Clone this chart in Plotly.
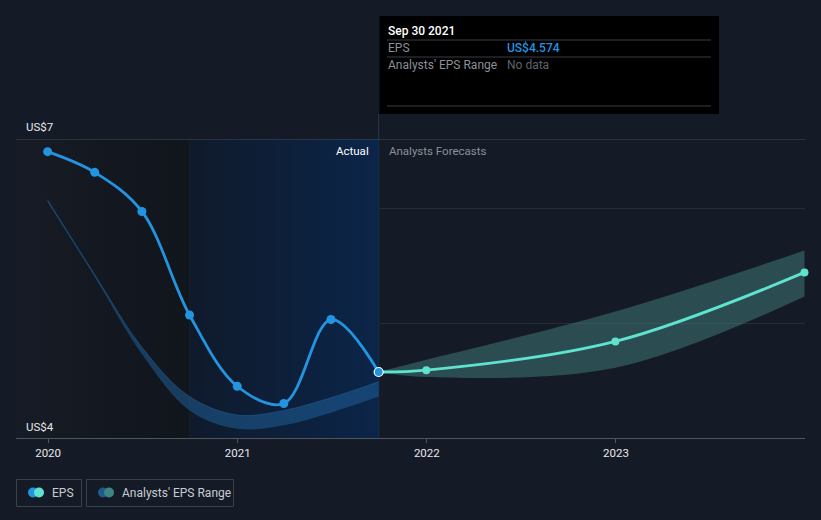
import plotly.graph_objects as go

# ---- data ----
actual_dates = ["2019-12-31", "2020-03-31", "2020-06-30", "2020-09-30",
                "2020-12-31", "2021-03-31", "2021-06-30", "2021-09-30"]
actual_eps = [6.49, 6.31, 5.97, 5.07, 4.45, 4.30, 5.03, 4.574]

past_range_dates = ["2019-12-31", "2020-03-31", "2020-06-30", "2020-09-30",
                    "2020-12-31", "2021-03-31", "2021-06-30", "2021-09-30"]
past_range_high = [6.07, 5.42, 4.79, 4.36, 4.20, 4.24, 4.35, 4.49]
past_range_low = [6.05, 5.40, 4.73, 4.24, 4.08, 4.11, 4.22, 4.36]

fc_dates = ["2021-09-30", "2021-12-31", "2022-12-31", "2023-12-31"]
fc_eps = [4.574, 4.59, 4.84, 5.44]
fc_high = [4.574, 4.68, 5.10, 5.63]
fc_low = [4.574, 4.53, 4.61, 5.23]

y_tick_labels = ["US$7", "US$4"]
x_tick_vals = ["2020-01-01", "2021-01-01", "2022-01-01", "2023-01-01"]
x_tick_text = ["2020", "2021", "2022", "2023"]

hover_date = "Sep 30 2021"
hover_eps = "US$4.574"

BG = "#151b26"
X0, X1 = "2019-10-31", "2024-01-01"
Y0, Y1 = 4.0, 6.6
split_a = "2020-09-30"
split_b = "2021-09-30"

fig = go.Figure()

# shaded regions
fig.add_trace(go.Scatter(
    x=[X0, split_a, split_a, X0, X0], y=[Y0, Y0, Y1, Y1, Y0],
    fill="toself", mode="lines", line=dict(width=0),
    fillgradient=dict(type="horizontal",
                      colorscale=[[0, "#161b25"], [1, "#11151c"]]),
    hoverinfo="skip", showlegend=False))
fig.add_trace(go.Scatter(
    x=[split_a, split_b, split_b, split_a, split_a], y=[Y0, Y0, Y1, Y1, Y0],
    fill="toself", mode="lines", line=dict(width=0),
    fillgradient=dict(type="horizontal",
                      colorscale=[[0, "#0f1a2b"], [1, "#0b2549"]]),
    hoverinfo="skip", showlegend=False))

# past analysts' range band
fig.add_trace(go.Scatter(x=past_range_dates, y=past_range_low, mode="lines",
                         line=dict(width=0, shape="spline", color="rgba(0,0,0,0)"),
                         hoverinfo="skip", showlegend=False))
fig.add_trace(go.Scatter(x=past_range_dates, y=past_range_high, mode="lines",
                         line=dict(width=1, shape="spline", color="rgba(32,100,160,0.5)"),
                         fill="tonexty", fillcolor="rgba(32,100,160,0.5)",
                         hoverinfo="skip", showlegend=False))

# forecast range band
fig.add_trace(go.Scatter(x=fc_dates, y=fc_low, mode="lines",
                         line=dict(width=0, shape="spline", color="rgba(0,0,0,0)"),
                         hoverinfo="skip", showlegend=False))
fig.add_trace(go.Scatter(x=fc_dates, y=fc_high, mode="lines",
                         line=dict(width=0, shape="spline", color="rgba(0,0,0,0)"),
                         fill="tonexty", fillcolor="rgba(70,140,135,0.45)",
                         hoverinfo="skip", showlegend=False))

# forecast line
fig.add_trace(go.Scatter(x=fc_dates, y=fc_eps, mode="lines+markers",
                         line=dict(width=2.8, shape="spline", color="#5fe3cf"),
                         marker=dict(size=8, color="#5fe3cf"),
                         cliponaxis=False, hoverinfo="skip", showlegend=False))

# actual EPS line
fig.add_trace(go.Scatter(x=actual_dates, y=actual_eps, mode="lines+markers",
                         line=dict(width=2.8, shape="spline", smoothing=1.0, color="#2394e0"),
                         marker=dict(size=9, color="#2394e0"),
                         hoverinfo="skip", showlegend=False))
# highlighted last point
fig.add_trace(go.Scatter(x=[actual_dates[-1]], y=[actual_eps[-1]], mode="markers",
                         marker=dict(size=9, color="#2394e0", line=dict(width=1.2, color="#ffffff")),
                         hoverinfo="skip", showlegend=False))


def py(p):
    return (438 - p) / 299


def px(p):
    return (p - 16) / 789


shapes = []
# top border line
shapes.append(dict(type="line", xref="paper", yref="y", x0=0, x1=1, y0=Y1, y1=Y1,
                   line=dict(color="#464c57", width=1), layer="above"))
# faint split line
shapes.append(dict(type="line", xref="x", yref="y", x0=split_a, x1=split_a, y0=Y0, y1=Y1,
                   line=dict(color="#1a2d48", width=1), layer="below"))
# hover vertical line
shapes.append(dict(type="line", xref="x", yref="paper", x0=split_b, x1=split_b, y0=0, y1=py(114),
                   line=dict(color="#23395a", width=1), layer="below"))
# tooltip box
shapes.append(dict(type="rect", xref="x", yref="paper", x0=split_b, x1=px(719),
                   y0=py(114), y1=py(16), fillcolor="#000000", line=dict(width=0)))
shapes[-1]["xref"] = "paper"
shapes[-1]["x0"] = px(379.5)

annotations = []
# y labels
annotations.append(dict(text=y_tick_labels[0], xref="paper", yref="paper", x=px(24), y=py(127),
                        xanchor="left", yanchor="middle", showarrow=False,
                        font=dict(color="#e6e8eb", size=11.5)))
annotations.append(dict(text=y_tick_labels[1], xref="paper", yref="paper", x=px(24), y=py(427),
                        xanchor="left", yanchor="middle", showarrow=False,
                        font=dict(color="#e6e8eb", size=11.5)))
# Actual / Forecasts labels
annotations.append(dict(text="Actual", xref="x", yref="paper", x=split_b, y=py(151),
                        xanchor="right", yanchor="middle", xshift=-8, showarrow=False,
                        font=dict(color="#ffffff", size=11.5)))
annotations.append(dict(text="Analysts Forecasts", xref="x", yref="paper", x=split_b, y=py(151),
                        xanchor="left", yanchor="middle", xshift=8, showarrow=False,
                        font=dict(color="#8b9098", size=11.5)))

# tooltip content
annotations.append(dict(text=hover_date, xref="paper", yref="paper", x=px(386), y=py(31),
                        xanchor="left", yanchor="middle", showarrow=False,
                        font=dict(color="#ffffff", size=12, weight=500)))
annotations.append(dict(text="EPS", xref="paper", yref="paper", x=px(386), y=py(48),
                        xanchor="left", yanchor="middle", showarrow=False,
                        font=dict(color="#8b9098", size=12)))
annotations.append(dict(text=hover_eps, xref="paper", yref="paper", x=px(505), y=py(48),
                        xanchor="left", yanchor="middle", showarrow=False,
                        font=dict(color="#2394e0", size=12, weight=500)))
annotations.append(dict(text="Analysts' EPS Range", xref="paper", yref="paper", x=px(386), y=py(65),
                        xanchor="left", yanchor="middle", showarrow=False,
                        font=dict(color="#8b9098", size=12)))
annotations.append(dict(text="No data", xref="paper", yref="paper", x=px(505), y=py(65),
                        xanchor="left", yanchor="middle", showarrow=False,
                        font=dict(color="#5f636b", size=12)))
for ly in (40, 57, 106):
    shapes.append(dict(type="line", xref="paper", yref="paper", x0=px(387), x1=px(711),
                       y0=py(ly), y1=py(ly), line=dict(color="#3a3d42", width=1)))

# legend (custom)
shapes.append(dict(type="rect", xref="paper", yref="paper", x0=px(16.5), x1=px(81.5),
                   y0=py(506.5), y1=py(479.5), line=dict(color="#3b414c", width=1), fillcolor=BG))
shapes.append(dict(type="rect", xref="paper", yref="paper", x0=px(86.5), x1=px(233.5),
                   y0=py(506.5), y1=py(479.5), line=dict(color="#3b414c", width=1), fillcolor=BG))
legend_dots = [(33, "#2394e0"), (39, "#5fe3cf"), (103, "#1e5a8c"), (109, "#3f8584")]
for cx, col in legend_dots:
    shapes.append(dict(type="circle", xref="paper", yref="paper",
                       x0=px(cx - 5), x1=px(cx + 5), y0=py(497.5), y1=py(487.5),
                       fillcolor=col, line=dict(width=0)))
annotations.append(dict(text="EPS", xref="paper", yref="paper", x=px(50), y=py(492.5),
                        xanchor="left", yanchor="middle", showarrow=False,
                        font=dict(color="#c8ccd2", size=12)))
annotations.append(dict(text="Analysts' EPS Range", xref="paper", yref="paper", x=px(120), y=py(492.5),
                        xanchor="left", yanchor="middle", showarrow=False,
                        font=dict(color="#c8ccd2", size=12)))

fig.update_layout(
    width=821, height=520,
    margin=dict(l=16, r=16, t=139, b=82),
    paper_bgcolor=BG, plot_bgcolor=BG,
    font=dict(family="Roboto, Open Sans, sans-serif", color="#e6e8eb", size=12),
    shapes=shapes, annotations=annotations,
    showlegend=False,
    xaxis=dict(type="date", range=[X0, X1], showgrid=False, zeroline=False,
               tickvals=x_tick_vals, ticktext=x_tick_text,
               showline=True, linecolor="#50555e", linewidth=1,
               ticks="outside", ticklen=4, tickcolor="#50555e",
               tickfont=dict(color="#e6e8eb", size=11.5)),
    yaxis=dict(range=[Y0, Y1], tickvals=[4, 5, 6], showticklabels=False,
               showgrid=True, gridcolor="#272c36", gridwidth=1, zeroline=False,
               showline=False, fixedrange=True),
)

fig.write_html("out.html")
